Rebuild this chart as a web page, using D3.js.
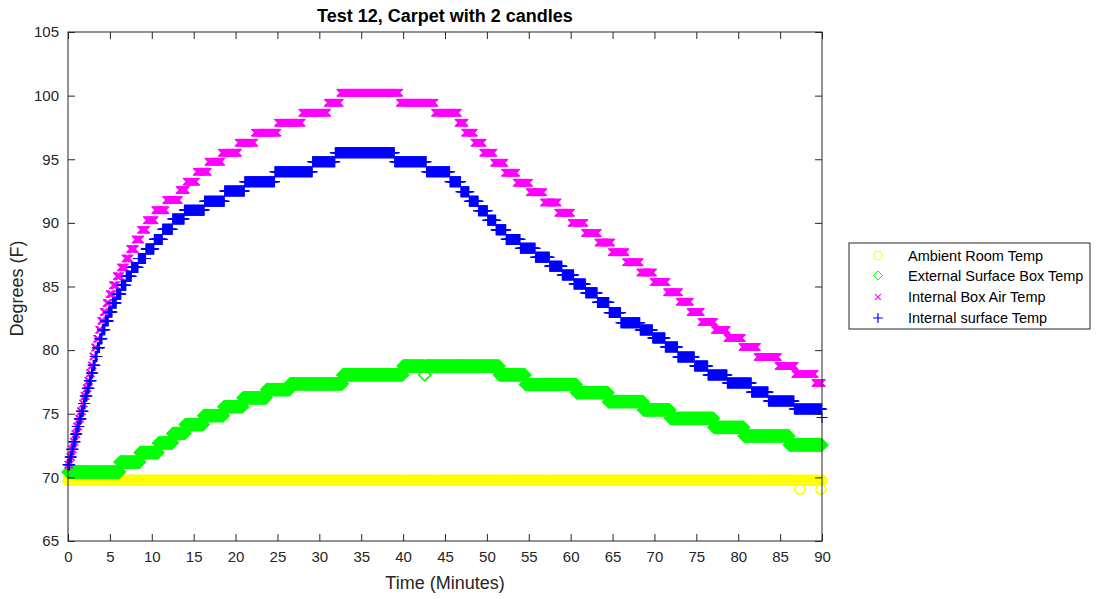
<!DOCTYPE html>
<html><head><meta charset="utf-8">
<script src="https://cdn.jsdelivr.net/npm/d3@7/dist/d3.min.js"></script>
<style>body{margin:0;background:#fff}svg{display:block}text{font-family:"Liberation Sans",Arial,Helvetica,sans-serif}</style>
</head><body><svg id="c" width="1098" height="599"></svg>
<script>
// ---- data: logger readings every SAMPLE minutes; each series given as plateaus [start minute, value]
const SAMPLE = 0.05;
const T_END = 90;
const xTicks = [0,5,10,15,20,25,30,35,40,45,50,55,60,65,70,75,80,85,90];
const yTicks = [65,70,75,80,85,90,95,100,105];

const ambientSteps = [[0,69.76],[87.35,69.07],[87.45,69.76],[89.85,69.07],[89.95,69.76]];

const externalSteps = [[0,70.42],[6.2,71.2],[8.6,71.95],[10.8,72.7],[12.5,73.45],[14.0,74.15],[16.2,74.85],[18.6,75.55],[20.9,76.25],[23.7,76.9],[26.5,77.35],[32.8,78.05],[40.0,78.75],[42.55,78.05],[42.65,78.75],[51.5,78.05],[54.6,77.3],[60.7,76.65],[64.5,75.95],[68.7,75.3],[71.9,74.64],[77.1,73.93],[80.7,73.25],[86.1,72.55]];

const airSteps = [[0,71.0],[0.25,71.6],[0.45,72.2],[0.65,72.8],[0.85,73.4],[1.05,74.0],[1.3,74.6],[1.5,75.2],[1.75,75.8],[1.95,76.4],[2.2,77.0],[2.4,77.6],[2.6,78.2],[2.8,78.8],[3.0,79.5],[3.2,80.2],[3.45,80.9],[3.7,81.6],[3.95,82.3],[4.25,83.0],[4.6,83.7],[4.95,84.4],[5.35,85.1],[5.8,85.8],[6.3,86.5],[6.85,87.2],[7.4,87.95],[8.05,88.7],[8.7,89.45],[9.4,90.2],[10.4,91.0],[11.7,91.8],[13.3,92.58],[14.15,93.24],[15.35,94.02],[16.75,94.8],[18.35,95.51],[20.35,96.3],[22.3,97.09],[25.05,97.87],[27.95,98.66],[31.0,99.44],[32.5,100.23],[39.6,99.44],[43.8,98.66],[46.6,97.87],[47.4,97.09],[48.5,96.3],[49.55,95.51],[50.85,94.73],[52.15,93.94],[53.55,93.16],[55.1,92.4],[56.8,91.6],[58.5,90.8],[60.1,90.0],[61.7,89.2],[63.3,88.45],[64.9,87.7],[66.6,86.9],[68.3,86.1],[69.9,85.35],[71.5,84.55],[73.0,83.8],[74.3,83.0],[75.6,82.21],[77.2,81.58],[78.7,80.95],[80.5,80.25],[82.3,79.46],[84.8,78.75],[86.8,78.12],[89.2,77.42]];

const surfaceSteps = [[0,71.0],[0.25,71.6],[0.45,72.2],[0.65,72.8],[0.9,73.4],[1.1,74.0],[1.35,74.6],[1.6,75.2],[1.85,75.8],[2.05,76.4],[2.3,77.0],[2.55,77.6],[2.8,78.2],[3.0,78.8],[3.25,79.5],[3.5,80.2],[3.8,80.9],[4.1,81.6],[4.45,82.3],[4.85,83.0],[5.3,83.7],[5.8,84.4],[6.35,85.1],[6.95,85.8],[7.6,86.5],[8.4,87.2],[9.3,87.95],[10.3,88.7],[11.3,89.5],[12.5,90.3],[13.9,91.0],[16.3,91.7],[18.7,92.5],[21.1,93.24],[24.7,94.02],[29.2,94.8],[31.9,95.51],[39.0,94.8],[42.8,94.02],[45.6,93.24],[46.9,92.45],[47.9,91.7],[49.0,90.95],[50.1,90.2],[51.1,89.45],[52.3,88.7],[54.0,88.0],[55.8,87.3],[57.5,86.6],[59.0,85.9],[60.4,85.2],[61.8,84.5],[63.2,83.75],[64.6,82.95],[66.0,82.15],[68.3,81.58],[69.8,80.95],[71.3,80.25],[72.8,79.46],[74.8,78.75],[76.4,78.04],[78.7,77.42],[81.6,76.7],[83.6,76.0],[86.7,75.37],[89.98,74.7]];

const seriesNames = ["Ambient Room Temp", "External Surface Box Temp", "Internal Box Air Temp", "Internal surface Temp"];
const seriesColors = ["#ffff00", "#00ff00", "#ff00ff", "#0000ff"];

// expand plateaus into the individual readings
function expand(steps) {
  const out = [];
  const n = Math.round(T_END / SAMPLE);
  let k = 0;
  for (let i = 0; i <= n; i++) {
    const t = i * SAMPLE;
    while (k + 1 < steps.length && t >= steps[k + 1][0] - 1e-9) k++;
    out.push([t, steps[k][1]]);
  }
  return out;
}
const ambient = expand(ambientSteps);
const external = expand(externalSteps);
const air = expand(airSteps);
const surface = expand(surfaceSteps);

// ---- layout
const L = 68, R = 822, T = 32, B = 541;
const svg = d3.select("#c");
const x = d3.scaleLinear().domain([0, 90]).range([L, R]);
const y = d3.scaleLinear().domain([65, 105]).range([B, T]);
const axisCol = "#262626";

const shapes = {
  circle: "M5,0A5,5 0 1,1 -5,0A5,5 0 1,1 5,0Z",
  diamond: "M0,-6L6,0L0,6L-6,0Z",
  cross: "M-3.6,-3.6L3.6,3.6M-3.6,3.6L3.6,-3.6",
  plus: "M-5.5,0H5.5M0,-5.5V5.5"
};
const markerDefs = [
  {data: ambient, shape: "circle", w: 1.3},
  {data: external, shape: "diamond", w: 1.2},
  {data: air, shape: "cross", w: 1.1},
  {data: surface, shape: "plus", w: 1.1}
];
const gMarks = svg.append("g");
markerDefs.forEach((m, i) => {
  gMarks.append("g").selectAll("path").data(m.data).join("path")
    .attr("d", shapes[m.shape])
    .attr("transform", d => `translate(${x(d[0])},${y(d[1])})`)
    .attr("fill", "none").attr("stroke", seriesColors[i]).attr("stroke-width", m.w);
});

// axes box and inward ticks
const gA = svg.append("g");
gA.append("rect").attr("x", L).attr("y", T).attr("width", R - L).attr("height", B - T)
  .attr("fill", "none").attr("stroke", axisCol).attr("stroke-width", 1);
const xb = gA.append("g").attr("transform", `translate(0,${B})`)
  .call(d3.axisBottom(x).tickValues(xTicks).tickSize(-7).tickPadding(10).tickFormat(d3.format("d")));
const xt = gA.append("g").attr("transform", `translate(0,${T})`)
  .call(d3.axisTop(x).tickValues(xTicks).tickSize(-7).tickFormat(""));
const yl = gA.append("g").attr("transform", `translate(${L},0)`)
  .call(d3.axisLeft(y).tickValues(yTicks).tickSize(-7).tickPadding(9).tickFormat(d3.format("d")));
const yr = gA.append("g").attr("transform", `translate(${R},0)`)
  .call(d3.axisRight(y).tickValues(yTicks).tickSize(-7).tickFormat(""));
[xb, xt, yl, yr].forEach(g => {
  g.select(".domain").remove();
  g.selectAll(".tick line").attr("stroke", axisCol);
  g.selectAll(".tick text").attr("fill", axisCol).style("font-size", "15px");
});

// titles
svg.append("text").attr("x", (L + R) / 2).attr("y", 22).attr("text-anchor", "middle")
  .style("font-size", "18px").style("font-weight", "bold").attr("fill", "#000")
  .text("Test 12, Carpet with 2 candles");
svg.append("text").attr("x", (L + R) / 2).attr("y", 589).attr("text-anchor", "middle")
  .style("font-size", "18px").attr("fill", axisCol).text("Time (Minutes)");
svg.append("text").attr("transform", `translate(23,${(T + B) / 2 + 2}) rotate(-90)`).attr("text-anchor", "middle")
  .style("font-size", "18px").attr("fill", axisCol).text("Degrees (F)");

// legend
const lg = svg.append("g").attr("transform", "translate(849,243)");
lg.append("rect").attr("width", 241).attr("height", 86).attr("fill", "#fff")
  .attr("stroke", axisCol).attr("stroke-width", 1);
const rows = [12.5, 32.5, 54, 75];
const legShapes = ["circle", "diamond", "cross", "plus"];
const legScale = [0.85, 0.75, 0.8, 0.9];
seriesNames.forEach((s, i) => {
  lg.append("path").attr("d", shapes[legShapes[i]])
    .attr("transform", `translate(29,${rows[i]}) scale(${legScale[i]})`)
    .attr("fill", "none").attr("stroke", seriesColors[i]).attr("stroke-width", 1.3);
  lg.append("text").attr("x", 59).attr("y", rows[i]).attr("dy", "0.35em")
    .style("font-size", "14.5px").attr("fill", "#000").text(s);
});
</script></body></html>
